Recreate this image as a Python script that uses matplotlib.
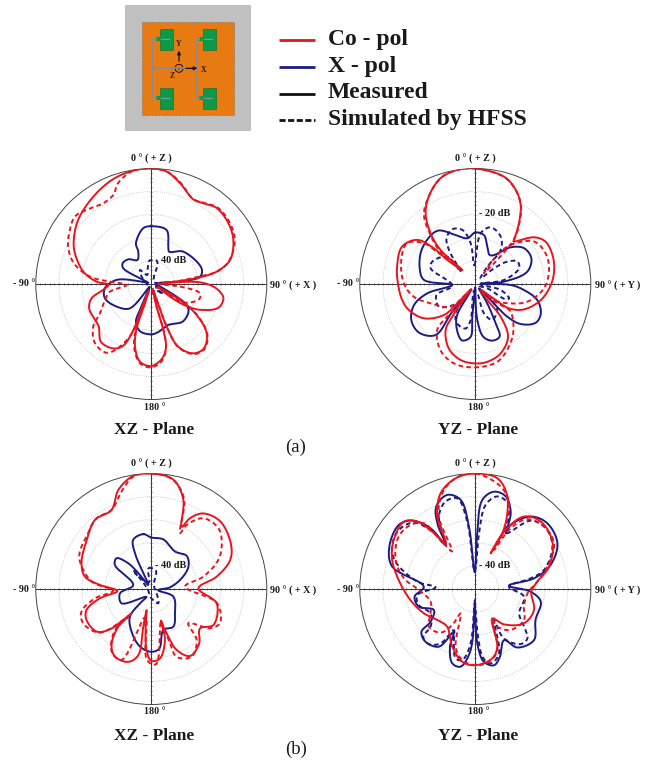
import numpy as np
import matplotlib
matplotlib.use("Agg")
import matplotlib.pyplot as plt
from matplotlib.patches import Rectangle, Circle

W, H = 648, 762
RED = "#e8141e"
BLUE = "#1c1c84"
SERIF = "Liberation Serif"

# ---- Panel (a) XZ ----
a_xz_co_meas_deg = [0,7.8,15.9,26.4,32.8,40.8,51.8,61.8,73,79.3,82.2,84,85,88,94,101,109.5,118,122,124,118,119,124.4,131.7,140.7,148.8,156.7,160.2,161,163,166.8,165.4,166.8,171.6,180,-171.7,-165.4,-161.7,-161.9,-160,-158,-159,-155.6,-149.4,-138.9,-129.2,-122.6,-111.4,-103.5,-97,-91,-87.6,-79.7,-68,-60.4,-48.8,-33.6,-20,-9]
a_xz_co_meas_db = [0,-0.9,-4.6,-9.1,-8.4,-6.6,-7.5,-9.7,-14.3,-21.2,-28.8,-37.4,-44.8,-28.9,-21.7,-18.2,-19.2,-26.2,-31.9,-38.4,-45.7,-35.8,-26.2,-17.9,-14,-14.9,-20.4,-30.3,-41,-47.8,-39.9,-29.3,-22.1,-17.5,-14.5,-16,-22,-29.8,-41.2,-47,-38.7,-30.2,-20.7,-17.6,-16.8,-20.7,-21.1,-21.1,-23.4,-29,-31.5,-26.3,-20.1,-14.3,-11.4,-7.9,-4.6,-1.7,-0.3]
a_xz_co_sim_deg = [0,8,16,26,33,41,52,62,73,79,81,84,88,95,100.9,107.8,120,121,118,119,124,132,141,149,157,160,161,165,167,165,167,172,180,-172,-165,-161,-159,-157,-159.8,-153.4,-147,-136.5,-126.3,-119.7,-109,-100.5,-92.3,-86.8,-83.2,-75,-65.8,-58.3,-48.6,-41.1,-30.8,-23.1,-18.2,-9]
a_xz_co_sim_db = [0,-0.9,-4.3,-9,-8.1,-6.2,-6.9,-9.1,-14.6,-20.4,-28.3,-38.4,-47.1,-37.6,-28.5,-28.3,-34,-42.2,-47.1,-35.8,-26.2,-17.3,-13.6,-14.6,-20.4,-30.3,-41.3,-47.8,-39.9,-29.3,-21.8,-16.5,-13.9,-15.3,-21.4,-29.8,-38.7,-45.7,-29.5,-19.7,-14.5,-14.6,-18.8,-24.4,-28.8,-31.8,-39.3,-32.1,-23.3,-15.3,-10.5,-8.2,-5.9,-7.4,-9.3,-8.1,-4,-0.3]
a_xz_x_meas_deg = [0,15.8,24.5,29,44.7,72.7,81.4,85,88,110,116.6,120.7,126.8,140.2,157.5,171.6,180,-166.4,-157.8,-156.4,-155,-150,-138.8,-123.2,-107.2,-95.3,-83.4,-76.8,-70,-60.8,-54.2,-43,-30,-21.9,-20.7,-8.2]
a_xz_x_meas_db = [-25,-25.7,-32.2,-34,-30.3,-27.2,-28.6,-37.6,-47.7,-44.5,-37.7,-32.2,-29.9,-28.8,-30.8,-29,-28.2,-29,-32.4,-37.7,-45.2,-48.6,-36,-32.1,-29,-29.8,-34.8,-44.9,-48.6,-36.1,-34.7,-35.4,-38,-34.8,-31.2,-25.6]
a_xz_x_sim_deg = [-162,-140,-76,-53,-39,-25,-13,-5,0,13,18,20,60,85,110,129,130,150,168]
a_xz_x_sim_db = [-45.8,-47.8,-47.8,-44.8,-42.2,-45.7,-43.1,-39.9,-39.6,-39.6,-41.3,-46.7,-48.6,-46.4,-47.8,-47.1,-43.2,-47.1,-45.8]

# ---- Panel (a) YZ ----
a_yz_co_meas_deg = [0,15,23.2,29.8,35.7,41.3,41.9,51.5,58.9,69.4,79.9,90.8,103.8,117.5,125.9,128.2,138,143,142.2,148.2,160,171.2,180,-169,-157.7,-147.2,-144.8,-142.8,-141,-137,-134.7,-123.8,-111.4,-102.4,-89.5,-77.5,-62.9,-52.8,-49.2,-49.4,-42.9,-45.6,-41.4,-35.1,-28,-18.2,-9]
a_yz_co_meas_db = [0,-1.9,-5.6,-10.5,-17.6,-24.6,-25.3,-17.5,-14.5,-14.3,-15.3,-17.3,-20.8,-26.2,-32,-38.7,-46.4,-41.3,-32.1,-23.1,-18,-15.9,-15.6,-16.5,-19.8,-26.3,-32.7,-39.5,-47.1,-38.6,-30.9,-23.3,-19.1,-17.6,-16.5,-15.3,-14.4,-18.4,-26.3,-34,-41.8,-28.9,-20.7,-12.6,-7.1,-1.8,0]
a_yz_co_sim_deg = [0,15,23,30,36,41,39,37.2,42.2,54.2,66.4,79.2,93.6,108.8,118.7,129.3,135,131,127.7,140.4,151.8,164.2,180,-165,-152.3,-140.4,-139.4,-142.8,-140,-132.6,-113.4,-101.7,-89.5,-72,-59.1,-51.6,-49.8,-45.8,-46.9,-42.4,-36.6,-28,-18,-9]
a_yz_co_sim_db = [0,-2,-5.6,-10.5,-17.6,-24.6,-44,-34.2,-27.2,-18.6,-16.8,-17.5,-20.2,-26.2,-32.5,-38.6,-45,-37.3,-31,-24.1,-19.2,-15,-13.9,-14.4,-17.6,-24.1,-31.4,-39.5,-45.7,-35.5,-28.9,-22.8,-19.1,-16.3,-15.6,-21.7,-29.4,-35.1,-28.5,-21.2,-12.7,-7.1,-1.7,0]
a_yz_x_meas_deg = [0,10,17.8,26.3,32.8,44,53.8,65.4,76.7,85.3,86,91.6,97,104.5,114.2,122.6,131.4,135.6,136.2,140,148.2,152.7,155.2,163.3,171.4,176.8,179.5,180,-174.8,-174.9,-167,-160.6,-150.3,-147.7,-145,-140.3,-142.1,-130.8,-119.4,-108.9,-101,-92.5,-85.5,-74.3,-56,-35.5,-21.9,-9.9]
a_yz_x_meas_db = [-27.7,-28.5,-33,-36,-35.1,-27.9,-23.8,-23.3,-26.9,-37.6,-47.7,-34.7,-28.8,-22.3,-18.9,-18.9,-23.8,-30.2,-40.4,-47.5,-40.2,-30.8,-24.9,-24.4,-26.9,-34.4,-44.5,-48.6,-35.8,-27,-24.9,-27.3,-33.7,-43.5,-47.1,-34.4,-22,-17.8,-18.2,-22,-28.8,-40,-27.7,-25,-22.3,-21.7,-27.2,-29.9]
a_yz_x_sim_deg = [-3,6,15.1,28.2,36.7,34.7,43,50,55,62,70.3,82,90,103.3,113,116.8,110,125,136,139.8,154.7,163.5,168,-170,-172.6,-167.7,-155.4,-146.2,-139,-137,-122,-105.9,-94,-70.7,-62.6,-45.7,-50,-37.8,-32.1,-22.8,-13.5,-6.5]
a_yz_x_sim_db = [-42,-27.9,-24.6,-26.7,-31.6,-40.9,-46.7,-39.5,-33.1,-29.3,-29.9,-37.4,-47.7,-38.7,-34.1,-35.3,-44.5,-47.8,-38.3,-35.3,-32.8,-36.7,-45.8,-47.1,-34.2,-30.3,-31.2,-34.7,-44.7,-38.6,-31.5,-32.5,-40,-29.5,-29,-33.1,-41.8,-31.4,-26.6,-24.3,-25.9,-32.2]

# ---- Panel (b) XZ ----
b_xz_co_meas_deg = [0,11.4,19.8,26,28.7,34.5,45.6,60.1,69.8,79.3,89.2,102.4,120.1,129,138.7,150,157.4,160.4,162.3,163,165,172.9,180,-175.6,-171.4,-167.5,-168,-168.9,-162.4,-151.8,-144.7,-138.8,-141,-134.3,-127.9,-115.6,-108,-100.3,-93.4,-85.5,-79.5,-69.8,-52.8,-39.2,-26.7,-18.4,-9]
b_xz_co_meas_db = [0,-1.7,-9,-20,-15,-10.3,-8.2,-10.3,-13.6,-21.2,-29.6,-21,-18.9,-22.9,-18.6,-16.5,-21.4,-28,-32.8,-35.7,-27.2,-19.7,-18.9,-23.4,-33.5,-40.6,-33.4,-20.8,-16.9,-16.8,-20.2,-28.3,-36.4,-25,-20,-18.9,-20.5,-27.3,-35.3,-27.7,-20.8,-17.8,-14.9,-11.4,-11.7,-4.8,-0.4]
b_xz_co_sim_deg = [0,11,20,27.2,28.9,36.3,47.8,57,66.6,76.7,86,102,116.6,124.6,127.5,132.9,138.4,149.2,159.5,161,162.3,163,175.9,180,-175.5,-168.4,-157.3,-147.7,-138.4,-140.3,-130.4,-116.8,-108,-99.4,-92.5,-83,-69,-62.4,-49.8,-37.7,-26.7,-17,-9]
b_xz_co_sim_db = [0,-1.7,-8.5,-22.8,-18.4,-12,-10.8,-13.6,-18.4,-26.9,-35.4,-21,-16.8,-20,-24.3,-28.2,-20.4,-15.9,-18.6,-25.1,-32.8,-35.7,-17.6,-17.5,-20.5,-37.7,-16.6,-17.9,-26.3,-34.4,-20.8,-17,-18.2,-25.3,-33.5,-24,-16.9,-15.1,-13.7,-11.3,-11.7,-5.9,-0.7]
b_xz_x_meas_deg = [-8.3,0,13.6,32.4,47,58.9,70.6,85,100,109,135.8,149.7,163.7,172.3,180,-168.9,-155.3,-142.4,-141.7,-148,-115.8,-97.9,-77.5,-56.6,-48.5,-41.9,-39,-37,-24.6,-20.2]
b_xz_x_meas_db = [-26,-27.7,-27.9,-30.8,-29,-31.2,-36.1,-41.9,-47,-39.9,-35.3,-31.1,-31.5,-24,-22.8,-24.6,-29.6,-34.8,-42.1,-46,-35.7,-36.3,-42,-31.1,-29.9,-35,-42.2,-47.8,-33,-27.3]
b_xz_x_sim_deg = [-8,14,25,60,129,154,170,-170,-100,-46.7,-43.5,-46,-20]
b_xz_x_sim_db = [-40.9,-41.8,-47.3,-48.5,-47,-43.1,-45.1,-46.7,-48.5,-43.2,-38.6,-41.2,-47]

# ---- Panel (b) YZ ----
b_yz_co_meas_deg = [0,11.2,18.1,22.9,25.9,23.3,26.6,33.9,44.1,58.4,73.1,83.3,92.7,109.7,125.2,141,150.1,159.1,166.2,180,-169.9,-158.3,-143.4,-129.2,-115.4,-99.7,-83.3,-70.8,-59,-46.7,-40.7,-36.9,-33,-27.7,-19.9,-10]
b_yz_co_meas_db = [0,-1.1,-6.4,-14.4,-23.1,-33.2,-22.2,-12.2,-9.3,-10.8,-16.6,-23,-25.7,-23,-24.2,-30.3,-35.3,-23.3,-19.1,-17,-18,-23.1,-29.6,-28.8,-25.4,-21.5,-16.6,-11.9,-8.8,-7.5,-11.5,-18.9,-26.4,-14.6,-5.9,-1.3]
b_yz_co_sim_deg = [0,13.9,21.5,25.9,25.6,30.2,36.7,47.8,59.9,72.8,83.3,94.8,110,122.5,139.2,149.7,151.3,160.2,169.3,180,-169.6,-161.2,-149.1,-147.4,-141.6,-129.1,-118.6,-105.8,-91,-81.5,-70,-55.6,-45.3,-38,-35.6,-31.6,-26.7,-19,-10]
b_yz_co_sim_db = [0,-4.3,-10.1,-21.5,-31.2,-19.5,-12.3,-9.8,-10.6,-17.3,-23,-27.3,-27.6,-25,-26.6,-31.1,-34.7,-21.8,-17.9,-17,-18.7,-23.6,-37.7,-31.5,-25.9,-24.1,-27.9,-29.9,-25.6,-18.8,-13.3,-9.8,-10.6,-13.9,-23,-30.9,-14.9,-6.1,-1.3]
b_yz_x_meas_deg = [-2,2,4.5,10.9,18.2,25,28.6,28.9,37.4,47.6,60.9,72.3,79.7,84.3,92.8,101,117.2,131,144.3,150.7,160,166.2,173.2,177.4,180,-178,-175.6,-169.3,-162.8,-156.3,-153.4,-147.8,-136.7,-128.5,-126.2,-116.9,-107.4,-97.2,-87.4,-74.9,-63.7,-50,-42.7,-36.4,-34,-30,-25.3,-16.6,-9.4,-5.8]
b_yz_x_meas_db = [-42.5,-25.9,-11.3,-7.1,-7.8,-13.7,-22.5,-18.4,-10.5,-7.8,-9.3,-15.8,-24.1,-35.4,-26,-21.1,-20.7,-16.3,-18.8,-24.6,-18.8,-16,-18.2,-25,-38,-45.2,-23.4,-15.8,-16.3,-22.7,-29.3,-20.5,-18.6,-20.2,-26,-29.9,-24.4,-23.5,-27.7,-12.7,-8.5,-6.8,-9.7,-17.3,-27,-17.1,-10.5,-7.5,-10.8,-22.8]
b_yz_x_sim_deg = [-2,3.8,7,13.4,20.9,24.7,28.6,39,49.2,61.2,74.5,79.1,86,99,119.1,127.7,133.5,140.5,150,149,159.8,168.3,173.4,176.8,-178,-175.1,-169.6,-164.2,-157.3,-152.5,-147.5,-139.9,-132.5,-130.1,-118.6,-105.9,-95.9,-87.6,-82.8,-71,-63,-52.3,-42.8,-36.9,-34,-26.7,-18.8,-11.2,-6.8]
b_yz_x_sim_db = [-42.5,-25.9,-13.3,-8.8,-10.3,-14.7,-22.5,-11.9,-9.7,-11.9,-19.1,-25.6,-35.4,-28.6,-28.3,-23.3,-18.9,-19.1,-25.3,-34.3,-20.2,-17.1,-19.8,-29.3,-43.8,-26.3,-18.7,-18.8,-26,-29.9,-22.1,-18.8,-19.4,-24.7,-27.9,-24.6,-24.7,-32.8,-24.7,-13.4,-9.5,-8.2,-10.8,-18.9,-27,-14.9,-10,-10,-20.6]

ring_db = [-40, -30, -20, -10]
outer_ticks_deg = list(range(0, 360, 30))
axis_ticks_db = list(range(-48, 0, 2))

ring_note = ["40 dB", "- 20 dB", "- 40 dB", "- 40 dB"]
plane_names = ["XZ - Plane", "YZ - Plane", "XZ - Plane", "YZ - Plane"]
right_labels = ["90 ° ( + X )", "90 ° ( + Y )", "90 ° ( + X )", "90 ° ( + Y )"]
legend_labels = ["Co - pol", "X - pol", "Measured", "Simulated by HFSS"]


def smooth(deg, db, n=8):
    """Centripetal Catmull-Rom through the read points, for a closed loop."""
    th = np.radians(deg)
    r = np.asarray(db, float) + 50
    P = np.c_[r * np.sin(th), r * np.cos(th)]
    m = len(P)
    out = []
    for i in range(m):
        p0, p1, p2, p3 = P[(i - 1) % m], P[i], P[(i + 1) % m], P[(i + 2) % m]
        t0 = 0.0
        t1 = t0 + max(np.linalg.norm(p1 - p0), 1e-3) ** 0.5
        t2 = t1 + max(np.linalg.norm(p2 - p1), 1e-3) ** 0.5
        t3 = t2 + max(np.linalg.norm(p3 - p2), 1e-3) ** 0.5
        for u in np.linspace(t1, t2, n, endpoint=False):
            a1 = (t1 - u) / (t1 - t0) * p0 + (u - t0) / (t1 - t0) * p1
            a2 = (t2 - u) / (t2 - t1) * p1 + (u - t1) / (t2 - t1) * p2
            a3 = (t3 - u) / (t3 - t2) * p2 + (u - t2) / (t3 - t2) * p3
            b1 = (t2 - u) / (t2 - t0) * a1 + (u - t0) / (t2 - t0) * a2
            b2 = (t3 - u) / (t3 - t1) * a2 + (u - t1) / (t3 - t1) * a3
            out.append((t2 - u) / (t2 - t1) * b1 + (u - t1) / (t2 - t1) * b2)
    out.append(out[0])
    Q = np.array(out)
    return np.arctan2(Q[:, 0], Q[:, 1]), np.hypot(Q[:, 0], Q[:, 1]) - 50


fig = plt.figure(figsize=(W / 100, H / 100), dpi=100, facecolor="white")
R = 115.5
centers = [(151.3, 284), (475.3, 284), (151.3, 589), (475.3, 589)]
panels = [
    (a_xz_x_meas_deg, a_xz_x_meas_db, a_xz_x_sim_deg, a_xz_x_sim_db,
     a_xz_co_meas_deg, a_xz_co_meas_db, a_xz_co_sim_deg, a_xz_co_sim_db),
    (a_yz_x_meas_deg, a_yz_x_meas_db, a_yz_x_sim_deg, a_yz_x_sim_db,
     a_yz_co_meas_deg, a_yz_co_meas_db, a_yz_co_sim_deg, a_yz_co_sim_db),
    (b_xz_x_meas_deg, b_xz_x_meas_db, b_xz_x_sim_deg, b_xz_x_sim_db,
     b_xz_co_meas_deg, b_xz_co_meas_db, b_xz_co_sim_deg, b_xz_co_sim_db),
    (b_yz_x_meas_deg, b_yz_x_meas_db, b_yz_x_sim_deg, b_yz_x_sim_db,
     b_yz_co_meas_deg, b_yz_co_meas_db, b_yz_co_sim_deg, b_yz_co_sim_db),
]

for (cx, cy), pn in zip(centers, panels):
    ax = fig.add_axes([(cx - R) / W, (H - cy - R) / H, 2 * R / W, 2 * R / H], projection="polar")
    ax.set_theta_zero_location("N")
    ax.set_theta_direction(-1)
    ax.set_rlim(-50, 0)
    ax.set_yticks(ring_db)
    ax.set_yticklabels([])
    ax.set_xticks(np.radians(outer_ticks_deg))
    ax.set_xticklabels([])
    ax.grid(False, axis="x")
    ax.grid(True, axis="y", color="#bcbcbc", lw=0.6, ls=(0, (1, 1.6)))
    ax.tick_params(axis="x", direction="in", length=1.8, width=0.5, color="#555555")
    ax.tick_params(axis="y", length=0)
    for s in ax.spines.values():
        s.set_color("#444444")
        s.set_linewidth(0.7)
    # crosshair with ticks every 2 dB
    for a, mk in ((0, "_"), (90, "|"), (180, "_"), (270, "|")):
        ax.plot([np.radians(a)] * 2, [-50, 0], color="#333333", lw=0.7, zorder=2)
        ax.plot([np.radians(a)] * len(axis_ticks_db), axis_ticks_db, ls="none", marker=mk,
                ms=1.9, mew=0.5, color="#444444", zorder=2)
    xm_t, xm_r, xs_t, xs_r, cm_t, cm_r, cs_t, cs_r = pn
    for t, r, col, dash in ((xs_t, xs_r, BLUE, True), (xm_t, xm_r, BLUE, False),
                            (cs_t, cs_r, RED, True), (cm_t, cm_r, RED, False)):
        th, rr = smooth(t, r)
        ax.plot(th, rr, color=col, lw=1.4, ls=(0, (2.4, 1.7)) if dash else "-",
                solid_joinstyle="round", zorder=3)

# overlay in pixel coordinates for every annotation
ov = fig.add_axes([0, 0, 1, 1], zorder=10)
ov.set_xlim(0, W)
ov.set_ylim(H, 0)
ov.axis("off")


def txt(x, y, s, size=7.2, ha="center", weight="bold"):
    ov.text(x, y, s, fontsize=size, ha=ha, va="center", family=SERIF, weight=weight, color="#1a1a1a")


for i, (cx, cy) in enumerate(centers):
    txt(cx, cy - R - 9.5, "0 ° ( + Z )")
    txt(cx - 127, cy, "- 90 °")
    txt(cx + 142, cy + 1.5, right_labels[i])
    txt(cx + 3.4, cy + R + 7.5, "180 °")
    txt(cx + 2.4, cy + R + 31, plane_names[i], size=12.5)
notes_xy = [(160.7, 260.5), (479, 214), (155, 565), (479, 565)]
for (x, y), s in zip(notes_xy, ring_note):
    ov.text(x, y, s, fontsize=7.4, ha="left", va="center", family=SERIF, weight="bold", color="#1a1a1a")

txt(296, 447, "(a)", size=13.5, weight="normal")
txt(296, 749, "(b)", size=13.5, weight="normal")

# inset antenna sketch
ov.add_patch(Rectangle((125, 5), 125.7, 125.7, fc="#c0c0c0", ec="none"))
ov.add_patch(Rectangle((141.7, 22.3), 92.3, 92.7, fc="#e87a12", ec="#555555", lw=0.5, ls=":"))
for px in (160, 203.3):
    for py in (29.3, 88.3):
        ov.add_patch(Rectangle((px, py), 12.7, 20.5, fc="#0d9a48", ec="#0a6a30", lw=0.4))
        ov.add_patch(Rectangle((px - 4, py + 7.5), 4.5, 4.5, fc="#0d9a48", ec="none"))
        ov.plot([px + 1, px + 9], [py + 9.8, py + 9.8], color="#7a9aa0", lw=0.8)
line_kw = dict(color="#8a8a9a", lw=1.3)
for vx, hx in ((153.3, 160), (197.3, 203.3)):
    ov.plot([vx, vx], [39, 98], **line_kw)
    ov.plot([vx, hx - 4], [39, 39], **line_kw)
    ov.plot([vx, hx - 4], [98, 98], **line_kw)
ov.plot([153.3, 197.3], [68.3, 68.3], **line_kw)
ov.annotate("", xy=(179, 48), xytext=(179, 64), arrowprops=dict(arrowstyle="-|>", lw=0.8, color="black", mutation_scale=5))
ov.annotate("", xy=(200, 68.3), xytext=(183, 68.3), arrowprops=dict(arrowstyle="-|>", lw=0.8, color="black", mutation_scale=5))
ov.add_patch(Circle((179, 68.3), 4, fc="none", ec="black", lw=0.6))
ov.add_patch(Circle((179, 68.3), 1.2, fc="black", ec="none"))
txt(178.5, 43.5, "Y", size=5.5)
txt(204, 69.5, "X", size=5.5)
txt(172, 76, "Z", size=5.5)

# legend
leg_y = [40.3, 67.3, 94, 120]
leg_col = [RED, BLUE, "#111111", "#111111"]
leg_ls = ["-", "-", "-", (0, (2.2, 0.9))]
for y, c, ls, lab in zip(leg_y, leg_col, leg_ls, legend_labels):
    ov.plot([279, 315], [y, y], color=c, lw=2.0, ls=ls, solid_capstyle="butt", dash_capstyle="butt")
    txt(328, y - 1, lab, size=17, ha="left")

fig.savefig("out.png", dpi=100, facecolor="white")
